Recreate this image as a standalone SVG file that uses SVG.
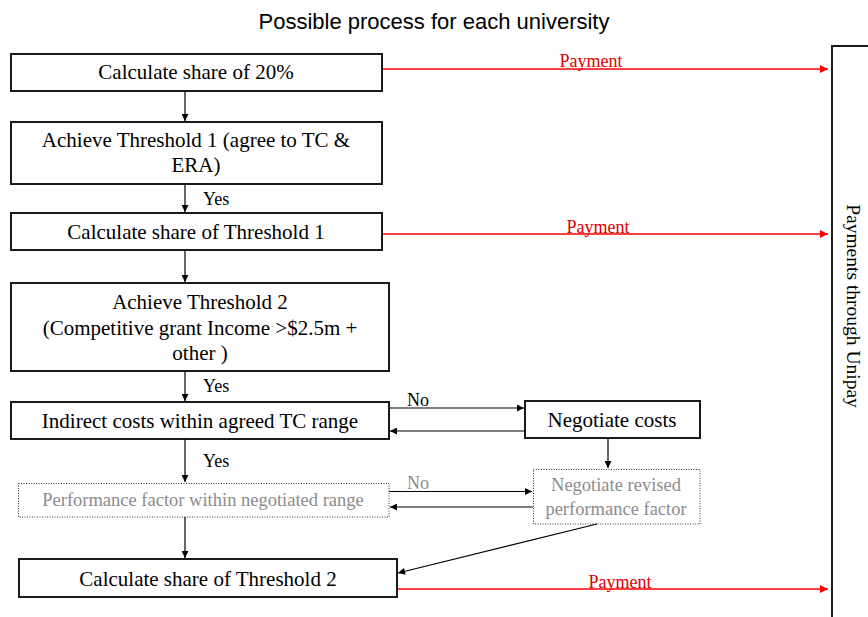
<svg xmlns="http://www.w3.org/2000/svg" width="868" height="617" viewBox="0 0 868 617">
  <style>
    .box { fill: #ffffff; stroke: #1a1a1a; stroke-width: 2; }
    .dbox { fill: #ffffff; stroke: #333333; stroke-width: 1; stroke-dasharray: 1 1.5; }
    .t { font-family: "Liberation Serif", "Times New Roman", serif; font-size: 21px; fill: #000000; text-anchor: middle; }
    .g { font-family: "Liberation Serif", "Times New Roman", serif; font-size: 18.5px; fill: #8c8c8c; text-anchor: middle; }
    .lbl { font-family: "Liberation Serif", "Times New Roman", serif; font-size: 18px; fill: #000000; }
    .pay { font-family: "Liberation Serif", "Times New Roman", serif; font-size: 18px; fill: #e00000; text-anchor: middle; }
    .title { font-family: "Liberation Sans", Arial, sans-serif; font-size: 22px; fill: #000000; text-anchor: middle; }
    .arr { fill: none; stroke: #000000; stroke-width: 1.2; marker-end: url(#ah); }
    .red { fill: none; stroke: #ff0000; stroke-width: 1.5; marker-end: url(#rh); }
  </style>
  <defs>
    <marker id="ah" viewBox="0 0 10 10" refX="10" refY="5" markerWidth="8" markerHeight="7" markerUnits="userSpaceOnUse" orient="auto">
      <path d="M0,0 L10,5 L0,10 z" fill="#000000"/>
    </marker>
    <marker id="rh" viewBox="0 0 10 10" refX="10" refY="5" markerWidth="9" markerHeight="8" markerUnits="userSpaceOnUse" orient="auto">
      <path d="M0,0 L10,5 L0,10 z" fill="#ff0000"/>
    </marker>
  </defs>

  <text class="title" x="434" y="29">Possible process for each university</text>

  <g id="unipay">
    <path d="M870,46 L832,46 L832,620" fill="none" stroke="#1a1a1a" stroke-width="2"/>
    <text class="t" transform="translate(847,306) rotate(90)" style="font-size:19.5px">Payments through Unipay</text>
  </g>

  <g id="calc20">
    <rect class="box" x="11" y="54" width="371" height="37"/>
    <text class="t" x="196" y="79">Calculate share of 20%</text>
  </g>

  <g id="threshold1">
    <rect class="box" x="11" y="122" width="371" height="62"/>
    <text class="t" x="196" y="147">Achieve Threshold 1 (agree to TC &amp;</text>
    <text class="t" x="196" y="172">ERA)</text>
  </g>

  <g id="calcT1">
    <rect class="box" x="11" y="213" width="371" height="37"/>
    <text class="t" x="196" y="239">Calculate share of Threshold 1</text>
  </g>

  <g id="threshold2">
    <rect class="box" x="11" y="283" width="378" height="88"/>
    <text class="t" x="200" y="309">Achieve Threshold 2</text>
    <text class="t" x="200" y="335">(Competitive grant Income &gt;$2.5m +</text>
    <text class="t" x="200" y="360">other )</text>
  </g>

  <g id="indirect">
    <rect class="box" x="11" y="402" width="378" height="37"/>
    <text class="t" x="200" y="428">Indirect costs within agreed TC range</text>
  </g>

  <g id="negcosts">
    <rect class="box" x="525" y="401" width="175" height="37"/>
    <text class="t" x="612" y="427">Negotiate costs</text>
  </g>

  <g id="perf">
    <rect class="dbox" x="18.5" y="483.5" width="370.5" height="33.5"/>
    <text class="g" x="203" y="506">Performance factor within negotiated range</text>
  </g>

  <g id="negperf">
    <rect class="dbox" x="533.5" y="469.5" width="166.5" height="54.5"/>
    <text class="g" x="616" y="491">Negotiate revised</text>
    <text class="g" x="616" y="515">performance factor</text>
  </g>

  <g id="calcT2">
    <rect class="box" x="19" y="559" width="378" height="38"/>
    <text class="t" x="208" y="586">Calculate share of Threshold 2</text>
  </g>

  <g id="connectors">
    <line class="arr" x1="185" y1="91" x2="185" y2="121"/>
    <line class="arr" x1="185" y1="184" x2="185" y2="212"/>
    <line class="arr" x1="185" y1="250" x2="185" y2="282"/>
    <line class="arr" x1="185" y1="371" x2="185" y2="401"/>
    <line class="arr" x1="185" y1="439" x2="185" y2="482"/>
    <line class="arr" x1="185" y1="517" x2="185" y2="558"/>
    <line class="arr" x1="390" y1="408" x2="524" y2="408"/>
    <line class="arr" x1="525" y1="431" x2="390" y2="431"/>
    <line class="arr" x1="608" y1="438" x2="608" y2="468"/>
    <line class="arr" x1="389" y1="491.5" x2="532" y2="491.5"/>
    <line class="arr" x1="533" y1="507" x2="390" y2="507"/>
    <line class="arr" x1="597" y1="524" x2="398" y2="573"/>
    <line class="red" x1="383" y1="69" x2="828" y2="69"/>
    <line class="red" x1="383" y1="234" x2="828" y2="234"/>
    <line class="red" x1="398" y1="589" x2="828" y2="589"/>
    <text class="lbl" x="203" y="205">Yes</text>
    <text class="lbl" x="203" y="392">Yes</text>
    <text class="lbl" x="203" y="467">Yes</text>
    <text class="lbl" x="407" y="406">No</text>
    <text class="lbl" x="407" y="489" style="fill:#8c8c8c">No</text>
    <text class="pay" x="591" y="67">Payment</text>
    <text class="pay" x="598" y="233">Payment</text>
    <text class="pay" x="620" y="588">Payment</text>
  </g>
</svg>
